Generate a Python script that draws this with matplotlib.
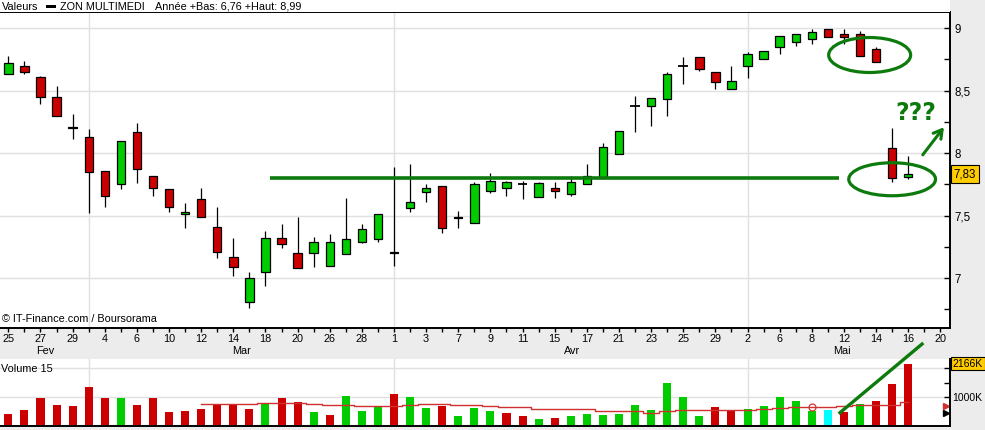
import matplotlib.pyplot as plt
import matplotlib.transforms as mtransforms
from matplotlib.patches import Ellipse, Rectangle
import numpy as np

plt.rcParams['font.family'] = ['Liberation Sans', 'DejaVu Sans']

# --- daily candles (ZON MULTIMEDIA) ---
opens = [8.63, 8.70, 8.61, 8.45, 8.21, 8.13, 7.86, 7.75, 8.17, 7.82,
         7.71, 7.51, 7.63, 7.41, 7.17, 6.81, 7.05, 7.32, 7.20, 7.20,
         7.10, 7.19, 7.29, 7.31, 7.20, 7.56, 7.69, 7.74, 7.48, 7.44,
         7.70, 7.72, 7.75, 7.65, 7.72, 7.67, 7.75, 7.80, 7.99, 8.38,
         8.38, 8.43, 8.70, 8.77, 8.65, 8.51, 8.70, 8.75, 8.85, 8.89,
         8.91, 8.99, 8.95, 8.95, 8.83, 8.04, 7.81]
highs = [8.78, 8.74, 8.62, 8.54, 8.31, 8.19, 7.86, 8.10, 8.24, 7.82,
         7.71, 7.60, 7.72, 7.57, 7.32, 7.05, 7.38, 7.43, 7.49, 7.33,
         7.35, 7.64, 7.43, 7.51, 7.89, 7.91, 7.75, 7.74, 7.54, 7.77,
         7.84, 7.78, 7.78, 7.77, 7.77, 7.82, 7.91, 8.08, 8.18, 8.46,
         8.44, 8.65, 8.77, 8.77, 8.65, 8.70, 8.81, 8.82, 8.94, 8.95,
         8.99, 8.99, 8.99, 8.98, 8.85, 8.20, 7.98]
lows = [8.63, 8.63, 8.39, 8.30, 8.11, 7.52, 7.57, 7.71, 7.76, 7.66,
        7.53, 7.40, 7.49, 7.16, 7.02, 6.76, 6.94, 7.24, 7.08, 7.09,
        7.10, 7.19, 7.28, 7.29, 7.10, 7.53, 7.61, 7.36, 7.40, 7.44,
        7.68, 7.66, 7.63, 7.65, 7.64, 7.66, 7.75, 7.80, 7.99, 8.17,
        8.22, 8.30, 8.55, 8.66, 8.51, 8.51, 8.60, 8.75, 8.79, 8.86,
        8.87, 8.93, 8.87, 8.78, 8.73, 7.77, 7.79]
closes = [8.72, 8.65, 8.45, 8.30, 8.20, 7.85, 7.66, 8.10, 7.87, 7.72,
          7.57, 7.53, 7.49, 7.21, 7.09, 7.00, 7.32, 7.27, 7.08, 7.29,
          7.29, 7.31, 7.39, 7.51, 7.21, 7.61, 7.72, 7.40, 7.49, 7.75,
          7.78, 7.77, 7.75, 7.76, 7.70, 7.77, 7.82, 8.05, 8.18, 8.38,
          8.44, 8.63, 8.70, 8.67, 8.57, 8.58, 8.79, 8.82, 8.94, 8.95,
          8.97, 8.93, 8.93, 8.78, 8.73, 7.80, 7.83]

# volume in thousands, bar colours as shown by the site
volumes = [389, 530, 954, 707, 671, 1343, 954, 954, 707, 954,
           459, 495, 565, 742, 742, 565, 777, 954, 813, 459,
           353, 1025, 495, 636, 1096, 990, 601, 671, 318, 601,
           495, 424, 318, 212, 247, 318, 389, 353, 389, 707,
           530, 1484, 990, 318, 636, 530, 565, 671, 990, 848,
           495, 530, 459, 742, 848, 1449, 2166]
vol_colors = list('rrrrrrrgrrrrrrrrgrrgrgggrggrggg'
                  'rrgrgggggggggrrgggggcrgrrrg')
vol_ma_start = 12
vol_ma = [730, 730, 730, 730, 777, 777, 777, 730, 695, 695,
          660, 660, 660, 695, 730, 730, 695, 695, 671, 636,
          636, 554, 554, 554, 554, 495, 495, 495, 424, 495,
          530, 530, 530, 530, 530, 577, 600, 624, 624, 624,
          660, 707, 707, 707, 801]

date_labels = ['25', '27', '29', '4', '6', '10', '12', '14', '18', '20',
               '26', '28', '1', '3', '7', '9', '11', '15', '17', '21',
               '23', '25', '29', '2', '6', '8', '12', '14', '16', '20']
month_names = ['Fev', 'Mar', 'Avr', 'Mai']
month_pos = [2.3, 14.5, 35.1, 51.9]
month_breaks = [5, 24, 46]

GREEN = '#00cc00'
RED = '#cc0000'
CYAN = '#00ffff'
ANNOT = '#0d7a0d'
GRID = '#e0e0e0'
cmap = {'r': RED, 'g': GREEN, 'c': CYAN}

fig = plt.figure(figsize=(9.85, 4.3), dpi=100, facecolor='#ececec')
W, H = 985.0, 430.0
ax = fig.add_axes([0, 1 - 327.5 / H, 950 / W, (327.5 - 12) / H])
axv = fig.add_axes([0, 1 - 426 / H, 950 / W, (426 - 359) / H])

# header strip
fig.patches.append(Rectangle((0, 1 - 12 / H), 950 / W, 12 / H, transform=fig.transFigure,
                             facecolor='white', edgecolor='none', zorder=0))
hy = 1 - 6.5 / H
fig.text(2 / W, hy, 'Valeurs', fontsize=7.8, va='center')
fig.patches.append(Rectangle((46 / W, 1 - 8 / H), 10 / W, 3 / H, transform=fig.transFigure,
                             facecolor='black', edgecolor='none'))
fig.text(60 / W, hy, 'ZON MULTIMEDI', fontsize=7.8, va='center')
fig.text(155 / W, hy, 'Année +Bas: 6,76 +Haut: 8,99', fontsize=7.8, va='center')

x = np.arange(len(opens))
xlim = (-0.52, 58.6)

# --- price panel ---
ax.set_xlim(*xlim)
ax.set_ylim(6.604, 9.128)
for yv in [7, 7.5, 8, 8.5, 9]:
    ax.axhline(yv, color=GRID, lw=1, zorder=0)
for xb in month_breaks:
    ax.axvline(xb, color=GRID, lw=1, zorder=0)

bw = 0.52
for i in x:
    o, h, l, c = opens[i], highs[i], lows[i], closes[i]
    ax.vlines(i, l, h, color='black', lw=0.9, zorder=2)
    if abs(c - o) < 0.005:
        ax.hlines(o, i - 0.3, i + 0.3, color='black', lw=1.3, zorder=3)
    else:
        col = GREEN if c > o else RED
        ax.add_patch(Rectangle((i - bw / 2, min(o, c)), bw, abs(c - o),
                               facecolor=col, edgecolor='black', lw=0.9, zorder=3))

ax.spines['left'].set_visible(False)
for s in ['top', 'right', 'bottom']:
    ax.spines[s].set_linewidth(1.4)

ax.yaxis.tick_right()
ax.set_yticks([7, 7.5, 8, 8.5, 9])
ax.set_yticklabels(['7', '7,5', '8', '8,5', '9'])
ax.set_yticks([6.75, 7.25, 7.75, 8.25, 8.75], minor=True)
ax.tick_params(axis='y', which='both', direction='in', length=4, width=1,
               labelsize=8.3, pad=3, right=True, left=False)
ax.set_xticks(np.arange(0, 59, 2))
ax.set_xticklabels(date_labels)
ax.set_xticks(np.arange(0, 59, 1), minor=True)
ax.tick_params(axis='x', which='both', direction='out', length=3, width=1,
               labelsize=7.8, pad=2)

ax.text(0.002, 0.027, '© IT-Finance.com / Boursorama', transform=ax.transAxes,
        fontsize=7.8, va='center', ha='left')

trans = mtransforms.blended_transform_factory(ax.transData, fig.transFigure)
for name, pos in zip(month_names, month_pos):
    ax.text(pos, 1 - 351 / H, name, transform=trans, fontsize=7.8,
            ha='center', va='center')

# last price tag
ax.text(1.004, closes[-1], '7,83', transform=ax.get_yaxis_transform(),
        fontsize=8.3, va='center', ha='left', clip_on=False,
        bbox=dict(boxstyle='square,pad=0.25', fc='#ffcc00', ec='black', lw=0.8))

# hand-drawn annotations
ax.hlines(7.797, 16.3, 51.7, color=ANNOT, lw=2.6, zorder=4)
ax.add_patch(Ellipse((53.6, 8.784), 5.1, 0.28, fill=False, ec=ANNOT, lw=2.3, zorder=5))
ax.add_patch(Ellipse((55.0, 7.79), 5.4, 0.264, fill=False, ec=ANNOT, lw=2.3, zorder=5))
ax.annotate('', xy=(58.33, 8.224), xytext=(56.8, 7.968),
            arrowprops=dict(arrowstyle='->,head_length=0.6,head_width=0.35',
                            color=ANNOT, lw=2.2), annotation_clip=False)
ax.text(56.5, 8.32, '???', color=ANNOT, fontsize=17, fontweight='bold',
        family='DejaVu Sans', ha='center', va='center')

# --- volume panel ---
axv.set_xlim(*xlim)
axv.set_ylim(-35, 2332)
axv.set_facecolor('white')
for yv in [1000, 2000]:
    axv.axhline(yv, color=GRID, lw=1, zorder=0)
for xb in month_breaks:
    axv.axvline(xb, color=GRID, lw=1, zorder=0)
axv.bar(x, volumes, width=0.5, color=[cmap[c] for c in vol_colors], zorder=2)
xm = np.arange(vol_ma_start, vol_ma_start + len(vol_ma))
axv.plot(xm, vol_ma, color='#d03030', lw=1, drawstyle='steps-mid', zorder=3)
axv.plot(50, vol_ma[50 - vol_ma_start] + 15, marker='o', ms=5, mfc='none',
         mec='#d03030', mew=0.9, zorder=4)

axv.spines['left'].set_visible(False)
axv.spines['top'].set_visible(False)
axv.spines['right'].set_linewidth(1.4)
axv.spines['bottom'].set_linewidth(1.4)
axv.set_xticks([])
axv.yaxis.tick_right()
axv.set_yticks([1000, 1500, 2000])
axv.set_yticklabels(['1000K', '', ''])
axv.tick_params(axis='y', direction='in', length=4, width=1, labelsize=7.5, pad=1.5,
                right=True, left=False)
axv.text(0.001, 0.85, 'Volume 15', transform=axv.transAxes, fontsize=7.8,
         va='center', ha='left')
axv.text(1.003, volumes[-1], '2166K', transform=axv.get_yaxis_transform(),
         fontsize=7.5, va='center', ha='left', clip_on=False,
         bbox=dict(boxstyle='square,pad=0.15', fc='#ffcc00', ec='black', lw=0.8))
axv.plot(0.996, 660, marker='>', ms=5, color='#d03030', transform=axv.get_yaxis_transform(),
         clip_on=False)
axv.plot(0.996, 430, marker='>', ms=5, color='black', transform=axv.get_yaxis_transform(),
         clip_on=False)

axv.plot([51.75, 56.86], [435, 2860], color=ANNOT, lw=2.4, clip_on=False, zorder=5)

fig.savefig('out.png', dpi=100, facecolor=fig.get_facecolor())
plt.close(fig)
